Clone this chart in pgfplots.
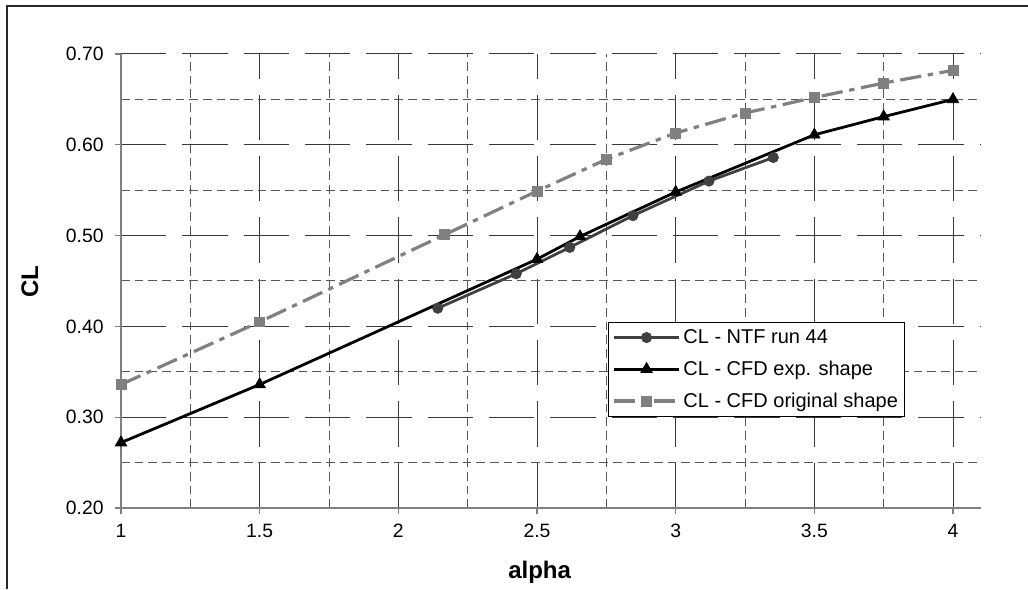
\documentclass[border=0pt]{standalone}
\usepackage{pgfplots}
\pgfplotsset{compat=1.18}
\usepackage{fontspec}
\setmainfont{Liberation Sans}
\definecolor{ntf}{HTML}{404040}
\definecolor{orig}{HTML}{808080}
\definecolor{axisgray}{HTML}{808080}
\definecolor{majgrid}{HTML}{383838}
\definecolor{mingrid}{HTML}{585858}
\begin{document}
\begin{tikzpicture}
\path[use as bounding box] (0,0) rectangle (771pt,441.75pt);
\draw[line width=1.4pt, color=black!85] (5.25pt,0) -- (5.25pt,437.25pt) -- (771pt,437.25pt);
\begin{axis}[
  at={(90.75pt,60.75pt)}, anchor=south west,
  scale only axis, width=644.8pt, height=340.5pt,
  xmin=1, xmax=4.1, ymin=0.2, ymax=0.7,
  axis x line=bottom, axis y line=left,
  axis line style={-, color=axisgray, line width=1.1pt},
  xtick={1,1.5,2,2.5,3,3.5,4},
  ytick={0.2,0.3,0.4,0.5,0.6,0.7},
  minor xtick={1.25,1.75,2.25,2.75,3.25,3.75},
  minor ytick={0.25,0.35,0.45,0.55,0.65},
  tick align=outside, major tick length=4.5pt, minor tick length=0pt,
  every tick/.style={color=axisgray, line width=0.8pt},
  grid=both,
  major grid style={color=majgrid, line width=0.75pt, dash pattern=on 34pt off 12pt},
  minor grid style={color=mingrid, line width=0.75pt, dash pattern=on 6.5pt off 3.75pt},
  /pgf/number format/assume math mode=true,
  yticklabel style={xshift=-5pt, /pgf/number format/fixed, /pgf/number format/fixed zerofill, /pgf/number format/precision=2},
  xticklabel style={yshift=-4pt, /pgf/number format/fixed},
  tick label style={font=\fontsize{14.5}{17}\selectfont},
  xlabel={\textbf{alpha}}, ylabel={\textbf{CL}},
  xlabel style={font=\fontsize{18}{21}\selectfont, at={(axis description cs:0.487,-0.141)}, anchor=center},
  ylabel style={font=\fontsize{18}{21}\selectfont, at={(axis description cs:-0.106,0.498)}, anchor=center, rotate=0},
  clip=false,
  legend style={at={(axis description cs:0.5665,0.4097)}, anchor=north west,
    draw=black, fill=white, font=\fontsize{15}{17}\selectfont,
    row sep=7.5pt, inner xsep=3pt, inner ysep=3.5pt},
  legend cell align=left,
  legend image code/.code={\draw[mark repeat=2,mark phase=2] plot coordinates {(0cm,0cm) (0.86cm,0cm) (1.72cm,0cm)};},
]
\addplot[color=ntf, line width=2.1pt, mark=*, mark size=3.9pt, mark options={solid, fill=ntf, draw=ntf, line width=0.5pt}]
  coordinates {(2.142,0.420) (2.425,0.458) (2.618,0.487) (2.846,0.522) (3.12,0.560) (3.352,0.586)};
\addlegendentry{CL - NTF run 44}
\addplot[color=black, line width=2.1pt, mark=triangle*, mark size=5pt, mark options={solid, fill=black, line width=0.5pt}]
  coordinates {(1,0.272) (1.5,0.336) (2.5,0.474) (2.655,0.499) (3.0,0.548) (3.5,0.611) (3.75,0.631) (4,0.650)};
\addlegendentry{CL - CFD exp. shape}
\addplot[color=orig, line width=2.4pt, dash pattern=on 16pt off 5pt on 4pt off 5pt, mark=square*, mark size=3.7pt, mark options={solid, fill=orig, draw=orig, line width=0.5pt}]
  coordinates {(1,0.336) (1.5,0.405) (2.167,0.501) (2.5,0.549) (2.75,0.584) (3,0.613) (3.25,0.635) (3.5,0.652) (3.75,0.668) (4,0.682)};
\addlegendentry{CL - CFD original shape}
\end{axis}
\end{tikzpicture}
\end{document}
